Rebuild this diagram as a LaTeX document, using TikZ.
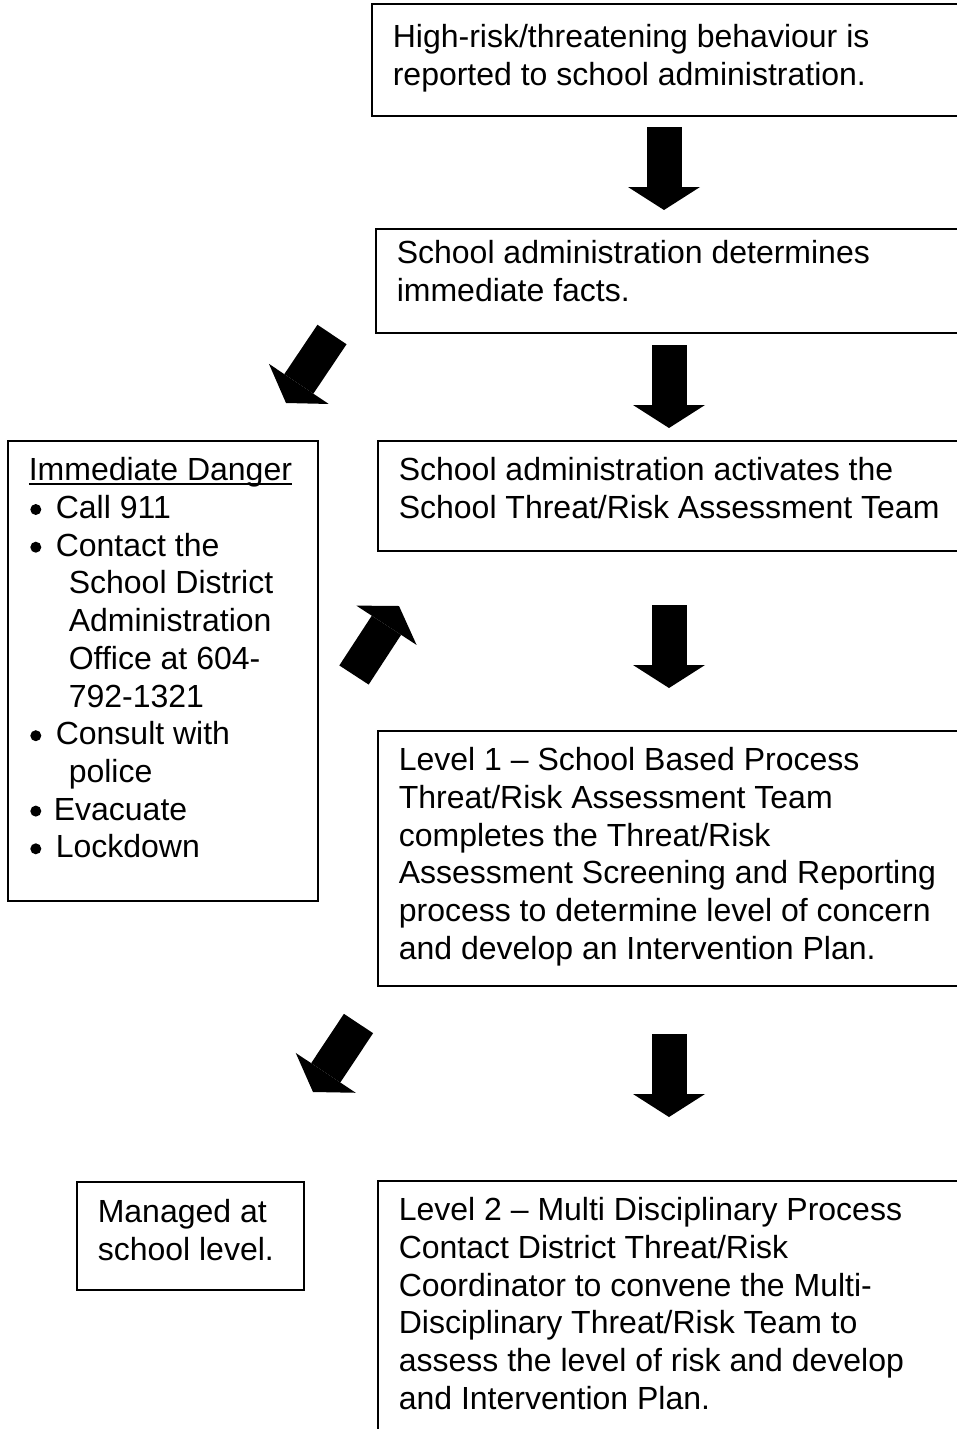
\documentclass[tikz,border=0pt]{standalone}
\usepackage{fontspec}
\setmainfont{Liberation Sans}
\usetikzlibrary{arrows.meta}
\tikzset{
  flowbox/.style={draw, line width=1.6pt, anchor=north west, inner xsep=21pt, inner ysep=0pt,
    align=flush left, font=\fontsize{32}{37.7}\selectfont},
  fatarrow/.style={line width=35pt, -{Triangle[width=72pt,length=23pt,line width=0pt]}}
}
\newsavebox\ulbox
\newcommand\docul[1]{\sbox\ulbox{#1}\rlap{\rule[-4pt]{\wd\ulbox}{1.8pt}}\usebox\ulbox}
\newcommand\dgdot{\raisebox{3.5pt}{\tikz\fill (0,0) circle (5.5pt);}}
\newcommand\dgitem{\hspace*{1.5pt}\dgdot\hspace*{14.5pt}}
\newcommand\dgcont{\hspace*{40pt}}

\begin{document}
\begin{tikzpicture}[x=1pt,y=-1pt]
			%%%%% START %%%%%
			\useasboundingbox (0,0) rectangle (957,1429);
			\clip (0,0) rectangle (957,1429);

			\node[flowbox, text width=577pt, text height=44pt, text depth=68pt] (report) at (371,3)
				{High-risk/threatening behaviour is\\reported to school administration.};
			\node[flowbox, text width=573pt, text height=35pt, text depth=69pt] (facts) at (375,228)
				{School administration determines\\immediate facts.};
			\node[flowbox, text width=571pt, text height=40pt, text depth=70pt] (activate) at (377,440)
				{School administration activates the\\School Threat/Risk Assessment Team};
			\node[flowbox, text width=571pt, text height=40pt, text depth=215pt] (level1) at (377,730)
				{Level 1 – School Based Process\\Threat/Risk Assessment Team\\completes the Threat/Risk\\Assessment Screening and Reporting\\process to determine level of concern\\and develop an Intervention Plan.};
			\node[flowbox, text width=571pt, text height=40pt, text depth=260pt] (level2) at (377,1180)
				{Level 2 – Multi Disciplinary Process\\Contact District Threat/Risk\\Coordinator to convene the Multi-\\Disciplinary Threat/Risk Team to\\assess the level of risk and develop\\and Intervention Plan.};

			\node[flowbox, text width=268pt, text height=40pt, text depth=420pt] (danger) at (7,440)
				{\docul{Immediate Danger}\\
				\dgitem Call 911\\
				\dgitem Contact the\\
				\dgcont School District\\
				\dgcont Administration\\
				\dgcont Office at 604-\\
				\dgcont 792-1321\\
				\dgitem Consult with\\
				\dgcont police\\
				\hspace*{1.5pt}\dgdot\hspace*{12.5pt}Evacuate\\
				\dgitem Lockdown};
			\node[flowbox, text width=185pt, text height=41pt, text depth=67pt] (managed) at (76,1181)
				{Managed at\\school level.};

			% block arrows
			\coordinate (a1s) at (664,127);    \coordinate (a1t) at (664,210);
			\coordinate (a2s) at (669,345);    \coordinate (a2t) at (669,428);
			\coordinate (a3s) at (669,605);    \coordinate (a3t) at (669,688);
			\coordinate (a4s) at (669,1034);   \coordinate (a4t) at (669,1117);
			\coordinate (dls) at (332,334.5);  \coordinate (dlt) at (286,403);
			\coordinate (urs) at (354,675);    \coordinate (urt) at (399,606);
			\coordinate (mls) at (358.5,1023.5); \coordinate (mlt) at (313,1092);

			\draw[fatarrow] (a1s) -- (a1t);
			\draw[fatarrow] (a2s) -- (a2t);
			\draw[fatarrow] (a3s) -- (a3t);
			\draw[fatarrow] (a4s) -- (a4t);
			\draw[fatarrow] (dls) -- (dlt);
			\draw[fatarrow] (urs) -- (urt);
			\draw[fatarrow] (mls) -- (mlt);
			%%%%% END %%%%%
\end{tikzpicture}
\end{document}
